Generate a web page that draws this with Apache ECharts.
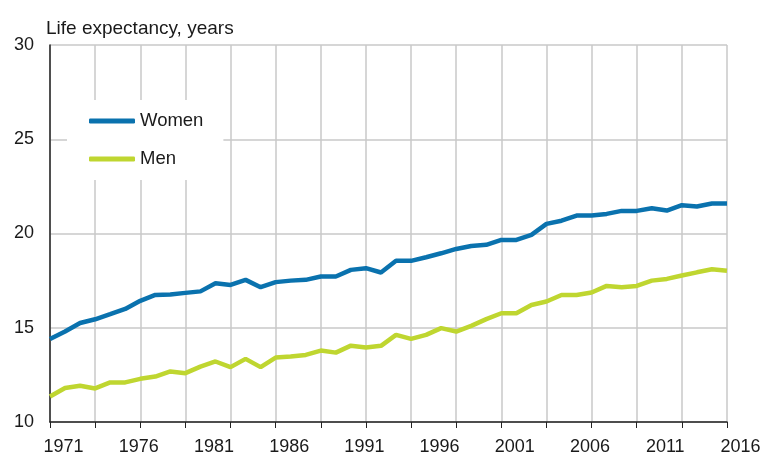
<!DOCTYPE html>
<html>
<head>
<meta charset="utf-8">
<script src="https://cdn.jsdelivr.net/npm/echarts@6/dist/echarts.min.js"></script>
<style>
  html, body { margin: 0; padding: 0; background: #fff; }
  #chart { width: 765px; height: 459px; }
</style>
</head>
<body>
<div id="chart"></div>
<script>
// years 1971..2016
var years = [];
for (var y = 1971; y <= 2016; y++) years.push(String(y));

var women = [14.40, 14.80, 15.25, 15.45, 15.72, 16.00, 16.43, 16.74, 16.76, 16.85,
	16.93, 17.36, 17.27, 17.54, 17.15, 17.42, 17.50, 17.54, 17.72, 17.72,
	18.07, 18.16, 17.93, 18.55, 18.55, 18.74, 18.95, 19.18, 19.34, 19.40,
	19.66, 19.66, 19.93, 20.51, 20.68, 20.95, 20.95, 21.04, 21.20, 21.20,
	21.34, 21.22, 21.50, 21.43, 21.59, 21.59];

var men = [11.35, 11.80, 11.92, 11.78, 12.10, 12.10, 12.29, 12.41, 12.68, 12.59,
	12.94, 13.21, 12.91, 13.35, 12.91, 13.42, 13.47, 13.56, 13.79, 13.68,
	14.05, 13.95, 14.04, 14.62, 14.41, 14.62, 14.98, 14.80, 15.10, 15.46,
	15.77, 15.77, 16.21, 16.39, 16.74, 16.74, 16.87, 17.22, 17.15, 17.22,
	17.50, 17.59, 17.77, 17.94, 18.10, 18.03];

var yTicks = [10, 15, 20, 25, 30];

var font = 'Liberation Sans, Arial, sans-serif';
var textColor = '#1a1a1a';
var gridColor = '#c9c9c9';

var chart = echarts.init(document.getElementById('chart'));
var option = {
	animation: false,
	backgroundColor: '#fff',
	title: {
		text: 'Life expectancy, years',
		left: 41,
		top: 14,
		textStyle: { fontFamily: font, fontSize: 19, fontWeight: 'normal', color: textColor }
	},
	grid: { left: 50, right: 38, top: 45, bottom: 37 },
	legend: {
		orient: 'vertical',
		left: 67,
		top: 100,
		padding: [11, 20, 11, 22],
		itemGap: 18,
		itemWidth: 46,
		itemHeight: 5,
		icon: 'roundRect',
		backgroundColor: '#fff',
		textStyle: { fontFamily: font, fontSize: 18.5, color: textColor, lineHeight: 20 },
		data: ['Women', 'Men']
	},
	xAxis: {
		type: 'category',
		data: years,
		boundaryGap: false,
		axisLine: { lineStyle: { color: '#222', width: 1.5 } },
		axisTick: {
			interval: function (i) { return i % 3 === 0; },
			length: 6,
			lineStyle: { color: '#222' }
		},
		axisLabel: {
			interval: function (i) { return i % 5 === 0; },
			margin: 16,
			padding: [0, 0, 0, 27],
			fontFamily: font,
			fontSize: 18,
			color: textColor
		},
		splitLine: {
			show: true,
			interval: function (i) { return i % 3 === 0; },
			lineStyle: { color: gridColor, width: 1.5 }
		}
	},
	yAxis: {
		type: 'value',
		min: yTicks[0],
		max: yTicks[yTicks.length - 1],
		interval: 5,
		axisLine: { show: true, lineStyle: { color: '#222', width: 1.5 } },
		axisTick: { show: false },
		axisLabel: { margin: 16, fontFamily: font, fontSize: 18, color: textColor },
		splitLine: { lineStyle: { color: gridColor, width: 1.5 } }
	},
	series: [{
		name: 'Women',
		type: 'line',
		data: women,
		symbol: 'none',
		color: '#0a72ae',
		lineStyle: { width: 4.5, color: '#0a72ae' },
		z: 3
	}, {
		name: 'Men',
		type: 'line',
		data: men,
		symbol: 'none',
		color: '#bfd630',
		lineStyle: { width: 4.5, color: '#bfd630' },
		z: 3
	}]
};
chart.setOption(option);
</script>
</body>
</html>
